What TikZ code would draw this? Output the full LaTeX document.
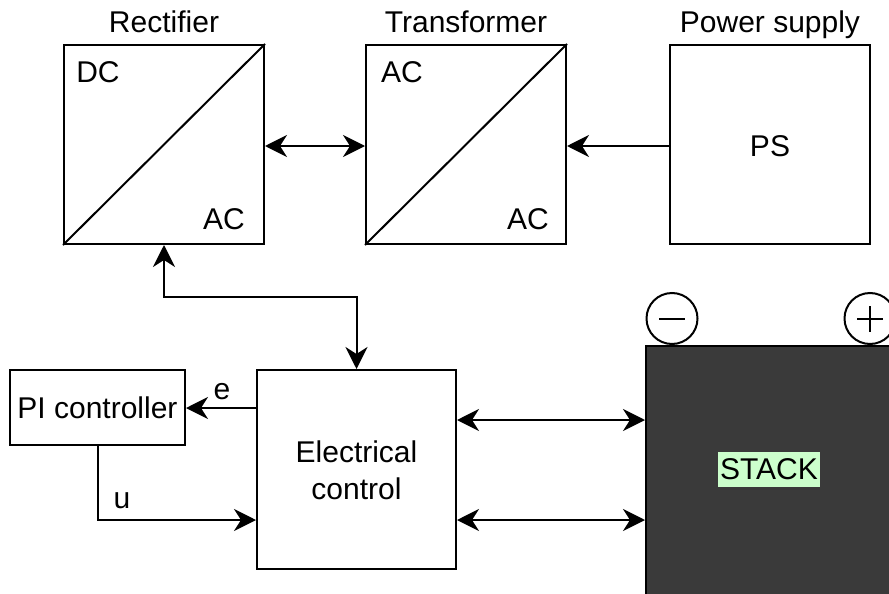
\documentclass[tikz,border=0pt]{standalone}
\usepackage{fontspec}
\setmainfont{Liberation Sans}
\usetikzlibrary{arrows.meta}
\definecolor{stackgray}{HTML}{3A3A3A}
\definecolor{labelgreen}{HTML}{CCFFCC}
\begin{document}
\begin{tikzpicture}[x=1pt,y=-1pt,
  every node/.style={font=\fontsize{30}{37}\selectfont, inner sep=0pt},
  blk/.style={draw, line width=2pt, minimum width=200pt, minimum height=199pt},
  tip/.tip={Stealth[length=22pt,width=22pt,inset=7pt]},
  uni/.style={line width=2pt, -tip},
  bi/.style={line width=2pt, tip-tip},
  txt/.style={anchor=base}]
\useasboundingbox (0,0) rectangle (889,594);
% top row
\node[blk] (rect) at (164,144.5) {};
\draw[line width=2pt] (rect.south west) -- (rect.north east);
\node[txt] (rectl) at (164,32.5) {Rectifier};
\node[txt] (dc) at (98,82.5) {DC};
\node[txt] (ac1) at (224,229) {AC};

\node[blk] (trans) at (466,144.5) {};
\draw[line width=2pt] (trans.south west) -- (trans.north east);
\node[txt] (transl) at (466,32.5) {Transformer};
\node[txt] (ac2) at (402,82.5) {AC};
\node[txt] (ac3) at (528,229) {AC};

\node[blk] (ps) at (770,144.5) {};
\node[txt] (psl) at (770,32.5) {Power supply};
\node[txt] (pst) at (770,156) {PS};

% bottom row
\node[draw, line width=2pt, minimum width=199pt, minimum height=199pt] (ectrl) at (356.5,469.5) {};
\node[align=center] (ectrlt) at (356.5,470) {Electrical\\control};
\node[draw, line width=2pt, minimum width=175pt, minimum height=75pt] (pi) at (97.5,407.5) {};
\node[txt] (pit) at (97.5,418) {PI controller};

\node[draw, line width=2pt, fill=stackgray, minimum width=262pt, minimum height=262pt, anchor=north west] (stack) at (645,345) {};
\node[fill=labelgreen, inner xsep=2pt, inner ysep=7pt] (stackl) at (769,469.5) {STACK};

\node[draw, circle, fill=white, line width=2pt, minimum size=51pt] (minus) at (672,318.5) {};
\draw[line width=2pt] ([xshift=-13pt]minus.center) -- ([xshift=13pt]minus.center);
\node[draw, circle, fill=white, line width=2pt, minimum size=51pt] (plus) at (870,318.5) {};
\draw[line width=2pt] ([xshift=-13pt]plus.center) -- ([xshift=13pt]plus.center);
\draw[line width=2pt] ([yshift=-13pt]plus.center) -- ([yshift=13pt]plus.center);

% connectors
\draw[bi] (rect.east |- 0,146) -- (trans.west |- 0,146);
\draw[uni] (ps.west |- 0,146) -- (trans.east |- 0,146);
\draw[bi] (rect.south) |- (ectrl.north |- 0,297) -- (ectrl.north);
\draw[uni] (ectrl.west |- 0,408) -- (pi.east |- 0,408);
\node[txt] (el) at (222,399) {e};
\draw[uni] (pi.south) |- (ectrl.west |- 0,520);
\node[txt] (ul) at (122,508) {u};
\draw[bi] (ectrl.east |- 0,420) -- (stack.west |- 0,420);
\draw[bi] (ectrl.east |- 0,520) -- (stack.west |- 0,520);
\end{tikzpicture}
\end{document}
